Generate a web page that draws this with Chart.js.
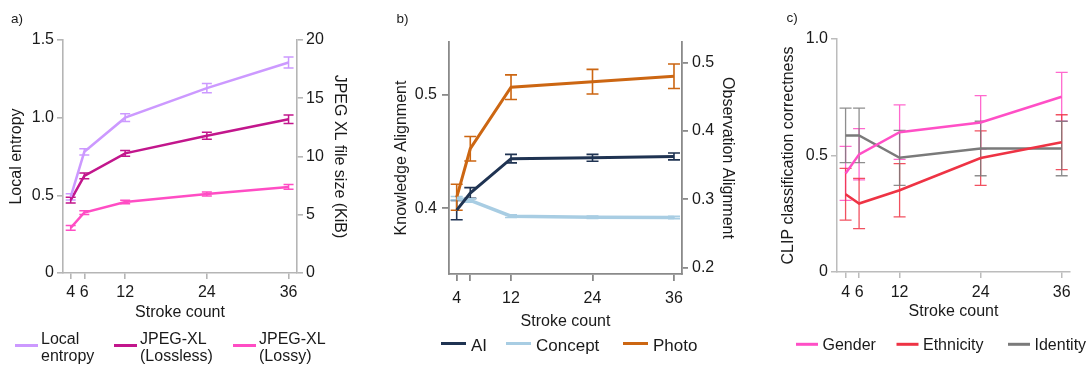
<!DOCTYPE html>
<html>
<head>
<meta charset="utf-8">
<script src="https://cdn.jsdelivr.net/npm/chart.js@4.4.1/dist/chart.umd.min.js"></script>
<style>
  html, body { margin: 0; padding: 0; background: #fff; }
  #fig { position: relative; width: 1089px; height: 365px; overflow: hidden; background: #fff; }
  #fig canvas { position: absolute; top: 0; }
</style>
</head>
<body>
<div id="fig">
  <canvas id="panelA" width="360" height="365" style="left:0px"></canvas>
  <canvas id="panelB" width="390" height="365" style="left:350px"></canvas>
  <canvas id="panelC" width="349" height="365" style="left:740px"></canvas>
</div>
<script>
// ---- shared x positions ----
const strokeCounts = [4, 6, 12, 24, 36];
const strokeLabels = ['4', '6', '12', '24', '36'];
const strokeLabelsB = ['4', '', '12', '24', '36'];

// ---- a) local entropy and JPEG XL file size ----
const entropySeriesNames = ['Local\nentropy', 'JPEG-XL\n(Lossless)', 'JPEG-XL\n(Lossy)'];
const localEntropy      = [0.49, 0.78, 1.00, 1.19, 1.355];
const localEntropyErr   = [0.02, 0.02, 0.025, 0.03, 0.035];
const jxlLossless       = [6.25, 8.34, 10.27, 11.78, 13.2];
const jxlLosslessErr    = [0.25, 0.25, 0.25, 0.3, 0.36];
const jxlLossy          = [3.87, 5.19, 6.10, 6.79, 7.39];
const jxlLossyErr       = [0.2, 0.16, 0.15, 0.17, 0.2];
const entropyTicks      = [0, 0.5, 1.0, 1.5];
const entropyTickLabels = ['0', '0.5', '1.0', '1.5'];
const sizeTicks         = [0, 5, 10, 15, 20];
const sizeTickLabels    = ['0', '5', '10', '15', '20'];

// ---- b) knowledge / observation alignment ----
const alignSeriesNames  = ['AI', 'Concept', 'Photo'];
const alignAI           = [0.3985, 0.4135, 0.4437, 0.4444, 0.4456];
const alignAIErr        = [0.0085, 0.0047, 0.0037, 0.003, 0.003];
const alignConcept      = [0.409, 0.407, 0.3932, 0.3922, 0.392];
const alignConceptErr   = [0.0015, 0.0015, 0.0012, 0.001, 0.001];
const alignPhoto        = [0.303, 0.374, 0.464, 0.472, 0.48];
const alignPhotoErr     = [0.019, 0.018, 0.018, 0.018, 0.018];
const knowledgeTicks      = [0.4, 0.5];
const knowledgeTickLabels = ['0.4', '0.5'];
const observationTicks      = [0.2, 0.3, 0.4, 0.5];
const observationTickLabels = ['0.2', '0.3', '0.4', '0.5'];

// ---- c) CLIP classification correctness ----
const clipSeriesNames = ['Gender', 'Ethnicity', 'Identity'];
const clipGender      = [0.423, 0.505, 0.600, 0.642, 0.752];
const clipGenderErr   = [0.116, 0.11, 0.117, 0.115, 0.105];
const clipEthnicity   = [0.334, 0.294, 0.351, 0.489, 0.557];
const clipEthnicityErr= [0.111, 0.108, 0.114, 0.117, 0.118];
const clipIdentity    = [0.586, 0.586, 0.490, 0.530, 0.530];
const clipIdentityErr = [0.117, 0.117, 0.118, 0.117, 0.117];
const clipTicks       = [0, 0.5, 1.0];
const clipTickLabels  = ['0', '0.5', '1.0'];

const FONT = '"Liberation Sans", Arial, Helvetica, sans-serif';
const INK = '#1a1a1a';
Chart.defaults.font.family = FONT;
Chart.defaults.font.size = 16;
Chart.defaults.color = INK;

const points = ys => strokeCounts.map((x, i) => ({ x, y: ys[i] }));

// vertical error bars with caps, drawn through each dataset's own scales
const errorBars = {
  id: 'errorBars',
  beforeDatasetsDraw(chart, args, o) {
    const ctx = chart.ctx;
    const xs = chart.scales.x;
    chart.data.datasets.forEach((ds, di) => {
      if (!ds.errors) return;
      const ys = chart.scales[chart.getDatasetMeta(di).yAxisID];
      ctx.save();
      ctx.strokeStyle = ds.errorColor || ds.borderColor;
      ctx.lineWidth = o.width;
      ctx.beginPath();
      ds.data.forEach((pt, i) => {
        const e = ds.errors[i];
        const px = xs.getPixelForValue(pt.x);
        const top = ys.getPixelForValue(pt.y + e);
        const bot = ys.getPixelForValue(pt.y - e);
        ctx.moveTo(px, top); ctx.lineTo(px, bot);
        ctx.moveTo(px - o.cap, top); ctx.lineTo(px + o.cap, top);
        ctx.moveTo(px - o.cap, bot); ctx.lineTo(px + o.cap, bot);
      });
      ctx.stroke();
      ctx.restore();
    });
  }
};

// line-swatch key under each panel (labels may span two lines)
const lineKey = {
  id: 'lineKey',
  afterDraw(chart, args, o) {
    const ctx = chart.ctx;
    ctx.save();
    ctx.font = o.size + 'px ' + FONT;
    ctx.fillStyle = INK;
    ctx.textAlign = 'left';
    ctx.textBaseline = 'alphabetic';
    chart.data.datasets.forEach((ds, i) => {
      const x = o.x[i];
      ctx.strokeStyle = ds.borderColor;
      ctx.lineWidth = o.thickness;
      ctx.beginPath();
      ctx.moveTo(x, o.swatchY);
      ctx.lineTo(x + o.len, o.swatchY);
      ctx.stroke();
      ds.label.split('\n').forEach((line, k) => {
        ctx.fillText(line, x + o.len + o.gap, o.baseline + k * o.lineHeight);
      });
    });
    ctx.restore();
  }
};

// panel letter in the top-left corner
const panelTag = {
  id: 'panelTag',
  afterDraw(chart, args, o) {
    const ctx = chart.ctx;
    ctx.save();
    ctx.font = o.size + 'px ' + FONT;
    ctx.fillStyle = INK;
    ctx.textBaseline = 'alphabetic';
    ctx.fillText(o.text, o.x, o.y);
    ctx.restore();
  }
};

function yAxis(position, min, max, ticks, labels, title, s) {
  return {
    type: 'linear', position, min, max,
    afterBuildTicks: sc => { sc.ticks = ticks.map(v => ({ value: v })); },
    afterFit: sc => { sc.width = s.width; },
    border: { display: true, color: s.color, width: s.lw },
    grid: { display: true, drawOnChartArea: false, drawTicks: true, tickLength: s.tick, color: s.color, lineWidth: s.lw },
    ticks: { padding: s.pad, color: INK, font: { size: 16 }, autoSkip: false, callback: (v, i) => labels[i] },
    title: { display: true, text: title, color: INK, font: { size: 16 }, padding: { top: s.titlePad, bottom: 0 } }
  };
}

function xAxis(min, max, labels, s) {
  return {
    type: 'linear', position: 'bottom', min, max,
    afterBuildTicks: sc => { sc.ticks = strokeCounts.map(v => ({ value: v })); },
    afterFit: sc => { sc.height = s.height; },
    border: { display: true, color: s.color, width: s.lw },
    grid: { display: true, drawOnChartArea: false, drawTicks: true, tickLength: s.tick, color: s.color, lineWidth: s.lw },
    ticks: { padding: s.pad, color: INK, font: { size: 16 }, autoSkip: false, maxRotation: 0, minRotation: 0, callback: (v, i) => labels[i] },
    title: { display: true, text: 'Stroke count', color: INK, font: { size: 16 }, padding: { top: 0, bottom: 0 } }
  };
}

function series(label, ys, errs, color, width, axis, errColor) {
  return {
    label, data: points(ys), errors: errs, errorColor: errColor,
    borderColor: color, backgroundColor: color, borderWidth: width,
    pointRadius: 0, pointHoverRadius: 0, tension: 0, fill: false, yAxisID: axis
  };
}

const baseOptions = {
  responsive: false,
  animation: false,
  devicePixelRatio: 1,
  events: [],
  plugins: { legend: { display: false }, tooltip: { enabled: false } }
};

// ---------- a) ----------
const axA = { color: '#b5b5b5', lw: 1.6 };
new Chart(document.getElementById('panelA'), {
  type: 'line',
  data: {
    datasets: [
      series(entropySeriesNames[0], localEntropy, localEntropyErr, '#cc99ff', 2.5, 'yL'),
      series(entropySeriesNames[1], jxlLossless, jxlLosslessErr, '#c2168c', 2.5, 'yR'),
      series(entropySeriesNames[2], jxlLossy, jxlLossyErr, '#ff4dc4', 2.5, 'yR')
    ]
  },
  options: Object.assign({}, baseOptions, {
    layout: { padding: { left: 0, right: 0, top: 40, bottom: 43 } },
    scales: {
      x: xAxis(2.87, 37.24, strokeLabels, Object.assign({ height: 49, tick: 6, pad: 4 }, axA)),
      yL: yAxis('left', 0, 1.5, entropyTicks, entropyTickLabels, 'Local entropy',
        Object.assign({ width: 63, tick: 6, pad: 3, titlePad: 7 }, axA)),
      yR: yAxis('right', 0, 20, sizeTicks, sizeTickLabels, 'JPEG XL file size (KiB)',
        Object.assign({ width: 63, tick: 6, pad: 3, titlePad: 11 }, axA))
    },
    plugins: Object.assign({}, baseOptions.plugins, {
      errorBars: { width: 1.5, cap: 5 },
      lineKey: { x: [15, 114, 233], len: 23, gap: 3, thickness: 3, swatchY: 345.5, baseline: 344, lineHeight: 17, size: 16 },
      panelTag: { text: 'a)', x: 11, y: 23, size: 13.5 }
    })
  }),
  plugins: [errorBars, lineKey, panelTag]
});

// ---------- b) ----------
const axB = { color: '#8a8a8a', lw: 1.8 };
new Chart(document.getElementById('panelB'), {
  type: 'line',
  data: {
    datasets: [
      series(alignSeriesNames[0], alignAI, alignAIErr, '#1f3352', 3, 'yL'),
      series(alignSeriesNames[1], alignConcept, alignConceptErr, '#a8cde3', 3.5, 'yL'),
      series(alignSeriesNames[2], alignPhoto, alignPhotoErr, '#cc6612', 3, 'yR')
    ]
  },
  options: Object.assign({}, baseOptions, {
    layout: { padding: { left: 30, right: 0, top: 42, bottom: 34 } },
    scales: {
      x: xAxis(2.866, 37.18, strokeLabelsB, Object.assign({ height: 57, tick: 7, pad: 8 }, axB)),
      yL: yAxis('left', 0.3424, 0.5461, knowledgeTicks, knowledgeTickLabels, 'Knowledge Alignment',
        Object.assign({ width: 69, tick: 7, pad: 5, titlePad: 12 }, axB)),
      yR: yAxis('right', 0.1908, 0.5301, observationTicks, observationTickLabels, 'Observation Alignment',
        Object.assign({ width: 58, tick: 6, pad: 4, titlePad: 3 }, axB))
    },
    plugins: Object.assign({}, baseOptions.plugins, {
      errorBars: { width: 1.6, cap: 6 },
      lineKey: { x: [91, 156, 273], len: 25, gap: 5, thickness: 3, swatchY: 343.5, baseline: 351, lineHeight: 18, size: 17 },
      panelTag: { text: 'b)', x: 46.5, y: 22.5, size: 13.5 }
    })
  }),
  plugins: [errorBars, lineKey, panelTag]
});

// ---------- c) ----------
const axC = { color: '#bcbcbc', lw: 1.5 };
new Chart(document.getElementById('panelC'), {
  type: 'line',
  data: {
    datasets: [
      series(clipSeriesNames[0], clipGender, clipGenderErr, '#ff4fc6', 2.5, 'yL', 'rgba(255,79,198,0.85)'),
      series(clipSeriesNames[1], clipEthnicity, clipEthnicityErr, '#ee3344', 2.5, 'yL', 'rgba(238,51,68,0.85)'),
      series(clipSeriesNames[2], clipIdentity, clipIdentityErr, '#7a7a7a', 2.5, 'yL', 'rgba(122,122,122,0.85)')
    ]
  },
  options: Object.assign({}, baseOptions, {
    layout: { padding: { left: 30, right: 19, top: 39, bottom: 44 } },
    scales: {
      x: xAxis(2.73, 37.23, strokeLabels, Object.assign({ height: 49, tick: 6, pad: 5 }, axC)),
      yL: yAxis('left', 0, 1, clipTicks, clipTickLabels, 'CLIP classification correctness',
        Object.assign({ width: 67, tick: 6, pad: 3, titlePad: 9 }, axC))
    },
    plugins: Object.assign({}, baseOptions.plugins, {
      errorBars: { width: 1.3, cap: 6 },
      lineKey: { x: [56, 156.5, 268], len: 22, gap: 4.5, thickness: 3, swatchY: 344.3, baseline: 350, lineHeight: 18, size: 16 },
      panelTag: { text: 'c)', x: 46.5, y: 22, size: 13.5 }
    })
  }),
  plugins: [errorBars, lineKey, panelTag]
});
</script>
</body>
</html>
